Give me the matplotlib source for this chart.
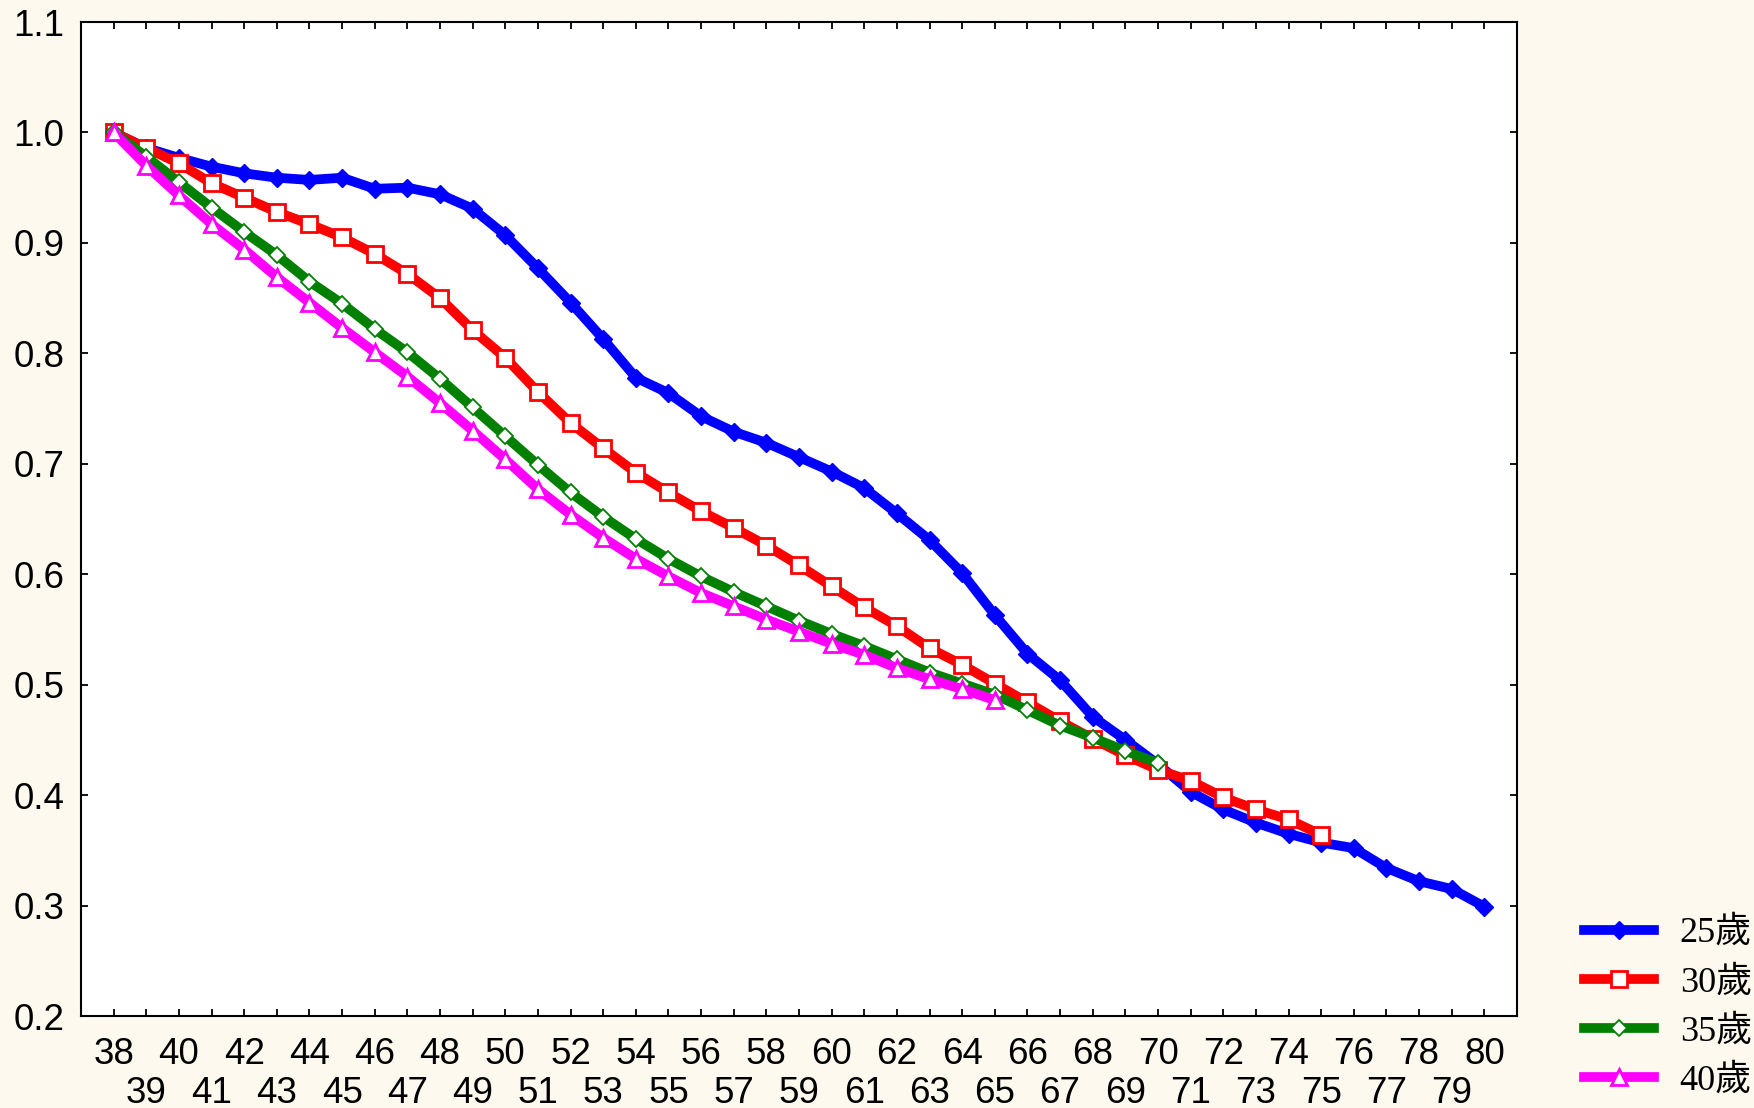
import numpy as np
import matplotlib.pyplot as plt

# survival ratio by age, one series per starting age
ages = np.arange(38, 81)

ratio_25 = [1.000, 0.986, 0.977, 0.969, 0.963, 0.959, 0.957, 0.959, 0.949, 0.950,
            0.944, 0.931, 0.907, 0.877, 0.846, 0.813, 0.778, 0.764, 0.743, 0.729,
            0.719, 0.706, 0.693, 0.678, 0.655, 0.631, 0.601, 0.563, 0.528, 0.504,
            0.471, 0.450, 0.428, 0.403, 0.387, 0.375, 0.365, 0.357, 0.352, 0.334,
            0.322, 0.315, 0.299]
ratio_30 = [1.000, 0.986, 0.972, 0.954, 0.941, 0.928, 0.917, 0.905, 0.890, 0.872,
            0.850, 0.821, 0.796, 0.765, 0.737, 0.714, 0.692, 0.674, 0.657, 0.642,
            0.626, 0.608, 0.589, 0.570, 0.553, 0.533, 0.518, 0.501, 0.484, 0.467,
            0.451, 0.436, 0.423, 0.413, 0.398, 0.387, 0.378, 0.364]
ratio_35 = [1.000, 0.978, 0.955, 0.932, 0.910, 0.889, 0.865, 0.845, 0.822, 0.801,
            0.777, 0.751, 0.725, 0.699, 0.674, 0.652, 0.632, 0.614, 0.598, 0.584,
            0.571, 0.558, 0.546, 0.535, 0.523, 0.511, 0.501, 0.491, 0.477, 0.463,
            0.452, 0.440, 0.429]
ratio_40 = [1.000, 0.970, 0.943, 0.917, 0.894, 0.869, 0.846, 0.823, 0.801, 0.779,
            0.755, 0.730, 0.704, 0.677, 0.654, 0.633, 0.614, 0.598, 0.583, 0.571,
            0.559, 0.548, 0.537, 0.527, 0.515, 0.505, 0.496, 0.486]

labels = ['25歲', '30歲', '35歲', '40歲']
y_ticks = np.round(np.arange(0.2, 1.11, 0.1), 1)

bg = '#fdf9ef'
fs = 26.5
fig = plt.figure(figsize=(17.54, 11.08), dpi=100, facecolor=bg)
ax = fig.add_axes([81 / 1754, 1 - 1016 / 1108, (1517 - 81) / 1754, (1016 - 22) / 1108])
ax.set_facecolor('white')

lw = 7
ax.plot(ages[:len(ratio_25)], ratio_25, color='#0000ff', lw=lw, marker='D', ms=9.5,
        mfc='#0000ff', mec='#0000ff', label=labels[0])
ax.plot(ages[:len(ratio_30)], ratio_30, color='#ff0000', lw=lw, marker='s', ms=12,
        mfc='white', mec='#ff0000', mew=2, label=labels[1])
ax.plot(ages[:len(ratio_35)], ratio_35, color='#008000', lw=lw, marker='D', ms=8,
        mfc='white', mec='#008000', mew=1.3, label=labels[2])
ax.plot(ages[:len(ratio_40)], ratio_40, color='#ff00ff', lw=lw, marker='^', ms=11,
        mfc='white', mec='#ff00ff', mew=2, label=labels[3])

ax.set_xlim(37, 81)
ax.set_ylim(0.2, 1.1)

# even ages on the first row, odd ages staggered below (minor ticks)
even_ages = ages[ages % 2 == 0]
odd_ages = ages[ages % 2 == 1]
ax.set_xticks(even_ages)
ax.set_xticklabels([str(a) for a in even_ages], fontsize=fs, family='Liberation Sans')
ax.set_xticks(odd_ages, minor=True)
ax.set_xticklabels([str(a) for a in odd_ages], minor=True, fontsize=fs,
                   family='Liberation Sans')
ax.set_yticks(y_ticks)
ax.set_yticklabels([f'{v:.1f}' for v in y_ticks], fontsize=fs, family='Liberation Sans')

ax.tick_params(axis='both', which='both', direction='in', length=5, width=1.3,
               top=True, right=True)
ax.tick_params(axis='x', which='major', pad=15)
ax.tick_params(axis='x', which='minor', pad=43)
ax.tick_params(axis='y', pad=12)
for sp in ax.spines.values():
    sp.set_linewidth(1.5)

leg = fig.legend(loc='center left', bbox_to_anchor=(1584 / 1754, 1 - 1007 / 1108),
                 frameon=False, handlelength=1.95, handletextpad=0.7,
                 labelspacing=0.43, borderaxespad=0, borderpad=0,
                 prop={'family': ['Liberation Serif', 'Noto Sans CJK TC'], 'size': 26})

fig.savefig('out.png', dpi=100, facecolor=bg)
